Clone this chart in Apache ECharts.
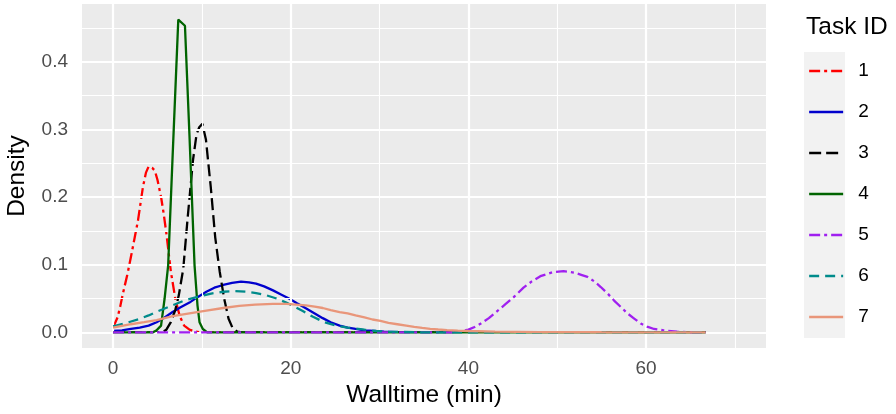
<!DOCTYPE html>
<html><head><meta charset="utf-8">
<script src="https://cdn.jsdelivr.net/npm/echarts@6/dist/echarts.min.js"></script>
<style>html,body{margin:0;padding:0;background:#fff}#c{width:896px;height:414px}</style>
</head><body><div id="c"></div><script>
const taskIds = ['1','2','3','4','5','6','7'];
const xTicks = [0, 20, 40, 60];
const xMinor = [10, 30, 50, 70];
const yTicks = [0, 0.1, 0.2, 0.3, 0.4];
const yMinor = [0.05, 0.15, 0.25, 0.35, 0.45];

const task1 = [[0,0.007],[0.5,0.022],[0.8,0.038],[1.1,0.057],[1.6,0.085],[2.0,0.111],[2.4,0.138],[2.8,0.165],[3.35,0.214],[3.7,0.236],[4.0,0.245],[4.4,0.243],[4.7,0.239],[5.0,0.225],[5.4,0.200],[5.7,0.175],[6.0,0.146],[6.5,0.090],[7.0,0.050],[7.5,0.024],[8.0,0.010],[8.6,0.004],[9.3,0.001],[10,0],[66.7,0]];
const task2 = [[0,0.002],[1,0.003],[2,0.005],[3,0.007],[4,0.010],[4.9,0.015],[5.8,0.022],[6.7,0.030],[7.6,0.037],[8.6,0.044],[9.5,0.052],[10.5,0.060],[11.4,0.066],[12.4,0.070],[13.4,0.073],[14.4,0.075],[15.3,0.074],[16.1,0.072],[17.0,0.068],[18.0,0.062],[18.9,0.056],[19.8,0.050],[20.7,0.043],[21.5,0.037],[22.7,0.028],[23.6,0.021],[24.5,0.015],[25.5,0.010],[26.4,0.007],[27.3,0.005],[28.3,0.003],[29.4,0.002],[30.5,0.001],[33,0],[66.7,0]];
const task3 = [[0,0],[5.5,0],[6.0,0.004],[6.5,0.015],[7.0,0.033],[7.4,0.055],[7.9,0.094],[8.4,0.170],[9.0,0.255],[9.4,0.293],[9.7,0.303],[10.05,0.308],[10.45,0.285],[11.0,0.214],[11.5,0.140],[12.0,0.090],[12.5,0.050],[13.0,0.020],[13.5,0.005],[14.0,0.001],[14.5,0],[66.7,0]];
const task4 = [[0,0],[4.5,0],[4.9,0.003],[5.4,0.010],[5.8,0.050],[6.2,0.099],[6.7,0.260],[7.34,0.462],[8.09,0.453],[8.6,0.290],[9.17,0.099],[9.5,0.040],[9.73,0.015],[10.1,0.005],[10.6,0],[66.7,0]];
const task5 = [[0,0],[38,0],[39,0.001],[40,0.004],[40.7,0.008],[41.4,0.013],[42.3,0.021],[43.3,0.032],[44.2,0.042],[45.1,0.052],[46.2,0.066],[47.1,0.075],[48.1,0.083],[49.5,0.089],[50.7,0.0905],[52,0.088],[52.7,0.085],[53.4,0.082],[54.2,0.075],[54.9,0.067],[55.7,0.057],[56.4,0.047],[57.2,0.037],[57.9,0.028],[58.7,0.020],[59.4,0.013],[60.2,0.008],[60.9,0.005],[62,0.003],[63.5,0.001],[65,0],[66.7,0]];
const task6 = [[0,0.009],[1.5,0.014],[3.0,0.020],[4.0,0.025],[5.0,0.031],[6.7,0.040],[8.0,0.047],[9.4,0.052],[10.9,0.057],[12.4,0.060],[13.7,0.061],[15.0,0.060],[16.1,0.058],[17.2,0.055],[18.4,0.050],[19.5,0.044],[20.4,0.038],[21.3,0.032],[22.5,0.023],[23.8,0.015],[25.1,0.010],[26.4,0.007],[28.3,0.004],[29.6,0.002],[31,0.001],[35,0],[66.7,0]];
const task7 = [[0,0.007],[2,0.012],[3.5,0.015],[4.9,0.018],[6.7,0.024],[8.6,0.028],[10.5,0.032],[12.4,0.036],[14.2,0.039],[16,0.041],[18,0.042],[19.5,0.042],[20.6,0.041],[21.7,0.040],[22.7,0.038],[23.6,0.036],[24.5,0.033],[25.5,0.030],[26.4,0.028],[27.3,0.025],[28.3,0.022],[29.2,0.019],[30.1,0.017],[31,0.014],[32,0.012],[33,0.010],[33.9,0.008],[34.8,0.0065],[35.7,0.0052],[36.6,0.0042],[37.6,0.0034],[38.8,0.0026],[40,0.002],[43,0.001],[48,0.0005],[55,0.0002],[66.7,0]];
const seriesData = [task1, task2, task3, task4, task5, task6, task7];

const colors = ['#FF0000','#0000CD','#000000','#006400','#A020F0','#008B8B','#E9967A'];
const dashes = [[11,4,3,4],'solid',[12,5],'solid',[11,4,3,4],[10,6],'solid'];
const FONT = "'Liberation Sans', Arial, Helvetica, sans-serif";

const chart = echarts.init(document.getElementById('c'), null, {renderer:'canvas'});

const gridSeries = (vals, axis, width, name) => ({
  type:'line', name:name, data:[], silent:true, z:1,
  markLine:{silent:true, symbol:['none','none'], label:{show:false}, animation:false,
    lineStyle:{color:'#FFFFFF', width:width, type:'solid'},
    emphasis:{disabled:true},
    data: vals.map(v => axis === 'x' ? {xAxis:v} : {yAxis:v})}
});

const dataSeries = taskIds.map((id, i) => ({
  type:'line', name:id, data:seriesData[i], symbol:'none', showSymbol:false,
  smooth:false, z:2+i, silent:true,
  lineStyle:{color:colors[i], width:2.3, type:dashes[i]},
  itemStyle:{color:colors[i]}
}));

chart.setOption({
  animation:false,
  textStyle:{fontFamily:FONT},
  grid:{left:82, top:4, width:684, height:344, show:true, backgroundColor:'#EBEBEB', borderWidth:0,
    containLabel:false, outerBoundsMode:'none'},
  xAxis:{type:'value', min:-3.5, max:73.5,
    axisLine:{show:false}, splitLine:{show:false},
    axisTick:{show:true, customValues:xTicks, length:5, lineStyle:{color:'#333333', width:1.5}},
    axisLabel:{customValues:xTicks, color:'#4D4D4D', fontSize:19, margin:11, fontFamily:FONT},
    name:'Walltime (min)', nameLocation:'middle', nameGap:32,
    nameTextStyle:{fontSize:24.5, color:'#000', fontFamily:FONT}},
  yAxis:{type:'value', min:-0.0231, max:0.4851,
    axisLine:{show:false}, splitLine:{show:false},
    axisTick:{show:true, customValues:yTicks, length:5, lineStyle:{color:'#333333', width:1.5}},
    axisLabel:{customValues:yTicks, color:'#4D4D4D', fontSize:19, margin:14, fontFamily:FONT,
      formatter:v => v.toFixed(1)},
    name:'Density', nameLocation:'middle', nameGap:52,
    nameTextStyle:{fontSize:24.5, color:'#000', fontFamily:FONT}},
  title:{text:'Task ID', left:806, top:15, padding:0,
    textStyle:{fontSize:24.5, fontWeight:'normal', color:'#000', fontFamily:FONT}},
  graphic:[{type:'rect', left:804, top:52, z:0, silent:true,
    shape:{width:41, height:286}, style:{fill:'#F2F2F2'}}],
  legend:{data:taskIds, orient:'vertical', left:808, top:61, padding:0,
    itemWidth:34, itemHeight:20, itemGap:21, selectedMode:false, z:5,
    itemStyle:{opacity:0, borderWidth:0},
    lineStyle:{width:2.3},
    textStyle:{fontSize:19, color:'#000', fontFamily:FONT, padding:[0,0,0,10], lineHeight:20}},
  series:[
    gridSeries(xMinor,'x',1.1,'_xminor'),
    gridSeries(yMinor,'y',1.1,'_yminor'),
    gridSeries(xTicks,'x',2.2,'_xmajor'),
    gridSeries(yTicks,'y',2.2,'_ymajor'),
    ...dataSeries
  ]
});
</script></body></html>
